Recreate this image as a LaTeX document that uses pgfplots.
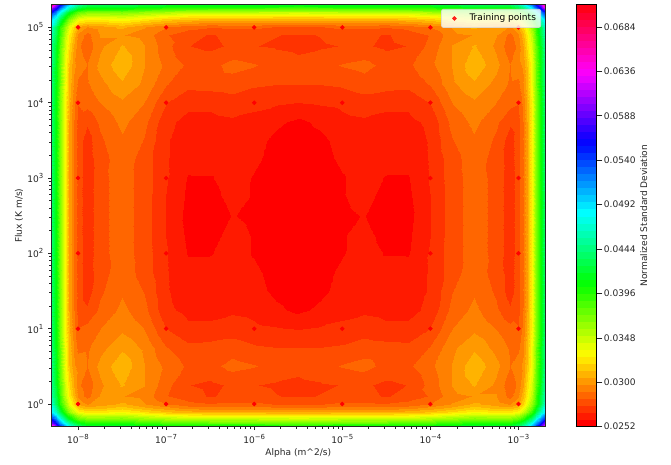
\documentclass[border=0pt]{standalone}
\usepackage{fontspec}
\setmainfont{DejaVu Sans}
\usepackage{pgfplots}
\pgfplotsset{compat=1.18}
% grid nodes (log10 of x and y); the table below holds one row per y, top row first
\def\cidx{\numexpr\coordindex-35*((\coordindex-17)/35)\relax}
\def\ridx{\numexpr(\coordindex-17)/35\relax}
\def\xlog{\ifcase\cidx -8.301\or -8.25\or -8.2\or -8.15\or -8.1\or -8.05\or -8\or -7.9\or -7.75\or -7.5\or -7.25\or -7\or -6.75\or -6.5\or -6.25\or -6\or -5.75\or -5.5\or -5.25\or -5\or -4.75\or -4.5\or -4.25\or -4\or -3.75\or -3.5\or -3.25\or -3.1\or -3\or -2.95\or -2.9\or -2.85\or -2.8\or -2.75\or -2.699\fi}
\def\ylog{\ifcase\ridx 5.301\or 5.25\or 5.2\or 5.15\or 5.1\or 5.05\or 5\or 4.9\or 4.75\or 4.5\or 4.25\or 4\or 3.75\or 3.5\or 3.25\or 3\or 2.75\or 2.5\or 2.25\or 2\or 1.75\or 1.5\or 1.25\or 1\or 0.75\or 0.5\or 0.25\or 0.1\or 0\or -0.05\or -0.1\or -0.15\or -0.2\or -0.25\or -0.301\fi}
\newcommand\tp[1]{10\raisebox{.42em}{\fontsize{5.2}{5}\selectfont #1}}
\pgfplotsset{
  colormap={hsvm}{rgb(0pt)=(1,0,0) rgb(10pt)=(1,.9375,0) rgb(11pt)=(.96875,1,0) rgb(21pt)=(.03125,1,0) rgb(22pt)=(0,1,.0625) rgb(32pt)=(0,1,1) rgb(42pt)=(0,.0625,1) rgb(43pt)=(.03125,0,1) rgb(53pt)=(.96875,0,1) rgb(54pt)=(1,0,.9375) rgb(63pt)=(1,0,.09375)},
  colormap={hsvb}{samples of colormap={60 of hsvm}},
}
\begin{document}
\begin{tikzpicture}
\path[use as bounding box] (0,0) rectangle (503.25pt,348pt);
\begin{axis}[
  at={(38.625pt,27.975pt)}, anchor=south west,
  scale only axis, width=370.125pt, height=316.5pt,
  xmode=log, ymode=log,
  xmin=5e-9, xmax=2e-3, ymin=0.5, ymax=2e5,
  axis on top,
  line width=.55pt,
  axis line style={draw=black!85},
  tick style={draw=black!85, line width=.5pt},
  tick align=outside,
  major tick length=2.5pt, minor tick length=1.5pt,
  tick pos=left,
  xtick={1e-8,1e-7,1e-6,1e-5,1e-4,1e-3},
  xticklabels={\tp{−8},\tp{−7},\tp{−6},\tp{−5},\tp{−4},\tp{−3}},
  ytick={1,10,100,1000,10000,100000},
  yticklabels={\tp{0},\tp{1},\tp{2},\tp{3},\tp{4},\tp{5}},
  ticklabel style={font=\fontsize{6.8}{8}\selectfont, text=black!85},
  xlabel={Alpha (m\textasciicircum 2/s)},
  ylabel={Flux (K m/s)},
  every axis x label/.style={at={(axis description cs:0.5,-0.0623)},anchor=center,font=\fontsize{6.8}{8}\selectfont, text=black!85},
  every axis y label/.style={at={(axis description cs:-0.0659,0.5)},rotate=90,anchor=center,font=\fontsize{6.8}{8}\selectfont, text=black!85},
  colormap name=hsvb,
  colormap access=piecewise constant,
  point meta min=0.0252, point meta max=0.0708,
  colorbar,
  colorbar style={
    at={(1.0628,0)}, anchor=south west,
    width=15.5pt, height=316.5pt,
    ytick={0.0252,0.03,0.0348,0.0396,0.0444,0.0492,0.054,0.0588,0.0636,0.0684},
    yticklabels={0.0252,0.0300,0.0348,0.0396,0.0444,0.0492,0.0540,0.0588,0.0636,0.0684},
    tick align=outside, ytick pos=right, yticklabel pos=right,
    yticklabel style={inner xsep=1pt},
    ylabel={Normalized Standard Deviation},
    every axis y label/.style={at={(axis description cs:3.28,0.5)},rotate=90,anchor=center,font=\fontsize{6.8}{8}\selectfont, text=black!85},
  },
  legend style={at={(0.992,0.99)}, anchor=north east, font=\fontsize{6.8}{8}\selectfont,
    fill=white, fill opacity=.8, text opacity=1, draw=black!15, draw opacity=.8, rounded corners=1.5pt,
    inner sep=1.5pt},
  legend cell align=left,
]
\addplot[contour filled={number=60}, forget plot, mesh/cols=35,
  point meta={\thisrow{z}/10000}]
  table[row sep=\\, x expr={10^(\xlog)}, y expr={10^(\ylog)}] {z\\
680\\602\\556\\518\\491\\469\\450\\434\\431\\431\\425\\419\\415\\414\\414\\414\\413\\412\\413\\414\\414\\414\\415\\419\\425\\431\\431\\434\\450\\469\\491\\518\\556\\602\\680\\
602\\556\\514\\480\\453\\431\\415\\400\\399\\400\\393\\387\\383\\381\\381\\381\\380\\379\\380\\381\\381\\381\\383\\387\\393\\400\\399\\400\\415\\431\\453\\480\\514\\556\\602\\
556\\518\\480\\446\\419\\396\\381\\370\\370\\372\\364\\358\\353\\351\\351\\351\\350\\349\\350\\351\\351\\351\\353\\358\\364\\372\\370\\370\\381\\396\\419\\446\\480\\518\\556\\
518\\488\\450\\415\\389\\370\\355\\345\\345\\349\\341\\333\\328\\326\\326\\326\\325\\324\\325\\326\\326\\326\\328\\333\\341\\349\\345\\345\\355\\370\\389\\415\\450\\488\\518\\
491\\465\\427\\393\\366\\347\\332\\326\\326\\331\\322\\314\\309\\307\\307\\307\\306\\306\\306\\307\\307\\307\\309\\314\\322\\331\\326\\326\\332\\347\\366\\393\\427\\465\\491\\
488\\450\\412\\377\\351\\332\\317\\309\\311\\317\\308\\301\\295\\293\\294\\294\\292\\292\\292\\294\\294\\293\\295\\301\\308\\317\\311\\309\\317\\332\\351\\377\\412\\450\\488\\
472\\434\\396\\364\\339\\320\\304\\297\\301\\307\\298\\290\\285\\283\\284\\284\\282\\282\\282\\284\\284\\283\\285\\290\\298\\307\\301\\297\\304\\320\\339\\364\\396\\434\\472\\
461\\427\\389\\352\\328\\310\\296\\287\\298\\298\\295\\283\\278\\274\\277\\277\\275\\274\\275\\277\\277\\274\\278\\283\\295\\298\\298\\287\\296\\310\\328\\352\\389\\427\\461\\
453\\419\\381\\345\\322\\304\\292\\285\\296\\306\\298\\285\\275\\273\\276\\275\\274\\273\\274\\275\\276\\273\\275\\285\\298\\306\\296\\285\\292\\304\\322\\345\\381\\419\\453\\
450\\412\\374\\336\\313\\299\\295\\290\\300\\311\\298\\288\\281\\280\\285\\283\\279\\277\\279\\283\\285\\280\\281\\288\\298\\311\\300\\290\\295\\299\\313\\336\\374\\412\\450\\
446\\412\\374\\336\\311\\296\\288\\289\\295\\304\\296\\283\\277\\278\\279\\276\\275\\275\\275\\276\\279\\278\\277\\283\\296\\304\\295\\289\\288\\296\\311\\336\\374\\412\\446\\
442\\408\\370\\332\\307\\292\\283\\285\\290\\296\\290\\275\\269\\269\\271\\269\\268\\267\\268\\269\\271\\269\\269\\275\\290\\296\\290\\285\\283\\292\\307\\332\\370\\408\\442\\
442\\408\\370\\332\\305\\290\\279\\276\\284\\292\\285\\269\\265\\265\\266\\265\\261\\258\\261\\265\\266\\265\\265\\269\\285\\292\\284\\276\\279\\290\\305\\332\\370\\408\\442\\
442\\408\\370\\332\\305\\290\\279\\271\\281\\289\\282\\268\\263\\263\\264\\262\\258\\256\\258\\262\\264\\263\\263\\268\\282\\289\\281\\271\\279\\290\\305\\332\\370\\408\\442\\
442\\408\\370\\332\\305\\290\\279\\271\\279\\287\\279\\268\\262\\263\\263\\261\\257\\255\\257\\261\\263\\263\\262\\268\\279\\287\\279\\271\\279\\290\\305\\332\\370\\408\\442\\
442\\408\\370\\332\\305\\290\\279\\270\\280\\286\\279\\268\\259\\259\\263\\259\\255\\255\\255\\259\\263\\259\\259\\268\\279\\286\\280\\270\\279\\290\\305\\332\\370\\408\\442\\
442\\408\\370\\332\\305\\290\\279\\270\\280\\286\\279\\267\\258\\257\\262\\259\\255\\255\\255\\259\\262\\257\\258\\267\\279\\286\\280\\270\\279\\290\\305\\332\\370\\408\\442\\
442\\408\\370\\332\\305\\290\\279\\270\\280\\286\\279\\267\\257\\254\\260\\258\\255\\254\\255\\258\\260\\254\\257\\267\\279\\286\\280\\270\\279\\290\\305\\332\\370\\408\\442\\
442\\408\\370\\332\\305\\290\\279\\270\\280\\286\\279\\267\\258\\257\\262\\259\\255\\255\\255\\259\\262\\257\\258\\267\\279\\286\\280\\270\\279\\290\\305\\332\\370\\408\\442\\
442\\408\\370\\332\\305\\290\\279\\270\\280\\286\\279\\268\\259\\259\\263\\259\\255\\255\\255\\259\\263\\259\\259\\268\\279\\286\\280\\270\\279\\290\\305\\332\\370\\408\\442\\
442\\408\\370\\332\\305\\290\\279\\271\\279\\287\\279\\268\\262\\263\\263\\261\\257\\255\\257\\261\\263\\263\\262\\268\\279\\287\\279\\271\\279\\290\\305\\332\\370\\408\\442\\
442\\408\\370\\332\\305\\290\\279\\271\\281\\289\\282\\268\\263\\263\\264\\262\\258\\256\\258\\262\\264\\263\\263\\268\\282\\289\\281\\271\\279\\290\\305\\332\\370\\408\\442\\
442\\408\\370\\332\\305\\290\\279\\276\\284\\292\\285\\269\\265\\265\\266\\265\\261\\258\\261\\265\\266\\265\\265\\269\\285\\292\\284\\276\\279\\290\\305\\332\\370\\408\\442\\
442\\408\\370\\332\\307\\292\\283\\285\\290\\296\\290\\275\\269\\269\\271\\269\\268\\267\\268\\269\\271\\269\\269\\275\\290\\296\\290\\285\\283\\292\\307\\332\\370\\408\\442\\
446\\412\\374\\336\\311\\296\\288\\289\\295\\304\\296\\283\\277\\278\\279\\276\\275\\275\\275\\276\\279\\278\\277\\283\\296\\304\\295\\289\\288\\296\\311\\336\\374\\412\\446\\
450\\412\\374\\336\\313\\299\\295\\290\\300\\311\\298\\288\\281\\280\\285\\283\\279\\277\\279\\283\\285\\280\\281\\288\\298\\311\\300\\290\\295\\299\\313\\336\\374\\412\\450\\
453\\419\\381\\345\\322\\304\\292\\285\\296\\306\\298\\285\\275\\273\\276\\275\\274\\273\\274\\275\\276\\273\\275\\285\\298\\306\\296\\285\\292\\304\\322\\345\\381\\419\\453\\
461\\427\\389\\352\\328\\310\\296\\287\\298\\298\\295\\283\\278\\274\\277\\277\\275\\274\\275\\277\\277\\274\\278\\283\\295\\298\\298\\287\\296\\310\\328\\352\\389\\427\\461\\
472\\434\\396\\364\\339\\320\\304\\297\\301\\307\\298\\290\\285\\283\\284\\284\\282\\282\\282\\284\\284\\283\\285\\290\\298\\307\\301\\297\\304\\320\\339\\364\\396\\434\\472\\
488\\450\\412\\377\\351\\332\\317\\309\\311\\317\\308\\301\\295\\293\\294\\294\\292\\292\\292\\294\\294\\293\\295\\301\\308\\317\\311\\309\\317\\332\\351\\377\\412\\450\\488\\
491\\465\\427\\393\\366\\347\\332\\326\\326\\331\\322\\314\\309\\307\\307\\307\\306\\306\\306\\307\\307\\307\\309\\314\\322\\331\\326\\326\\332\\347\\366\\393\\427\\465\\491\\
518\\488\\450\\415\\389\\370\\355\\345\\345\\349\\341\\333\\328\\326\\326\\326\\325\\324\\325\\326\\326\\326\\328\\333\\341\\349\\345\\345\\355\\370\\389\\415\\450\\488\\518\\
556\\518\\480\\446\\419\\396\\381\\370\\370\\372\\364\\358\\353\\351\\351\\351\\350\\349\\350\\351\\351\\351\\353\\358\\364\\372\\370\\370\\381\\396\\419\\446\\480\\518\\556\\
602\\556\\514\\480\\453\\431\\415\\400\\399\\400\\393\\387\\383\\381\\381\\381\\380\\379\\380\\381\\381\\381\\383\\387\\393\\400\\399\\400\\415\\431\\453\\480\\514\\556\\602\\
680\\602\\556\\518\\491\\469\\450\\434\\431\\431\\425\\419\\415\\414\\414\\414\\413\\412\\413\\414\\414\\414\\415\\419\\425\\431\\431\\434\\450\\469\\491\\518\\556\\602\\680\\
};
\addplot[only marks, mark=*, mark size=1.4pt, color=red, mark options={draw=red,fill=red},
  legend image code/.code={\path (0pt,0pt) (17pt,0pt); \draw plot coordinates {(8pt,0pt)};}] coordinates {
(1e-8,1)(1e-7,1)(1e-6,1)(1e-5,1)(1e-4,1)(1e-3,1)
(1e-8,10)(1e-7,10)(1e-6,10)(1e-5,10)(1e-4,10)(1e-3,10)
(1e-8,100)(1e-7,100)(1e-6,100)(1e-5,100)(1e-4,100)(1e-3,100)
(1e-8,1000)(1e-7,1000)(1e-6,1000)(1e-5,1000)(1e-4,1000)(1e-3,1000)
(1e-8,10000)(1e-7,10000)(1e-6,10000)(1e-5,10000)(1e-4,10000)(1e-3,10000)
(1e-8,100000)(1e-7,100000)(1e-6,100000)(1e-5,100000)(1e-4,100000)(1e-3,100000)
};
\addlegendentry{Training points}
\end{axis}
\end{tikzpicture}
\end{document}
